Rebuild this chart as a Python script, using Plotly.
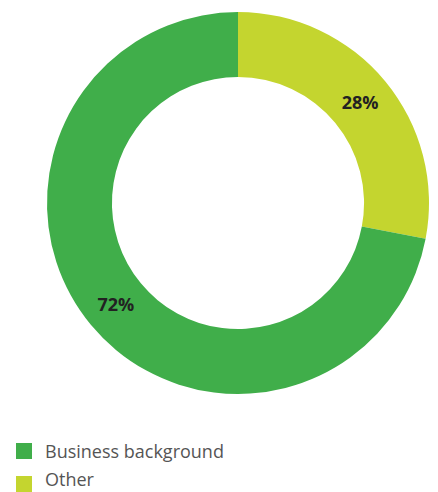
import plotly.graph_objects as go

# Share of respondents by background
categories = ["Business background", "Other"]
shares = [72, 28]
colors = ["#40ae4a", "#c4d52f"]

W, H = 438, 492

fig = go.Figure()

# Slices are laid out clockwise from 12 o'clock, "Other" first
fig.add_trace(go.Pie(
    labels=categories[::-1],
    values=shares[::-1],
    sort=False,
    direction="clockwise",
    rotation=0,
    hole=0.66,
    marker=dict(colors=colors[::-1], line=dict(width=0)),
    texttemplate="<b>%{value}%</b>",
    textposition="inside",
    insidetextorientation="horizontal",
    textfont=dict(family="Open Sans", size=18, color="#222222"),
    hoverinfo="label+percent",
    showlegend=False,
    domain=dict(x=[47 / W, 429 / W], y=[98 / H, 480 / H]),
))

# Hand-built legend with larger square swatches
swatch_centers = [451, 484]
text_centers = [451, 479]
for name, color, ys, yt in zip(categories, colors, swatch_centers, text_centers):
    fig.add_shape(
        type="rect", xref="paper", yref="paper",
        x0=16 / W, x1=32 / W,
        y0=(H - ys - 8) / H, y1=(H - ys + 8) / H,
        fillcolor=color, line=dict(width=0),
    )
    fig.add_annotation(
        x=44 / W, y=(H - yt) / H, xref="paper", yref="paper",
        text=name, showarrow=False, xanchor="left", yanchor="middle",
        borderpad=0,
        font=dict(family="Open Sans", size=18, color="#555555"),
    )

fig.update_layout(
    width=W, height=H,
    margin=dict(l=0, r=0, t=0, b=0),
    paper_bgcolor="white",
    plot_bgcolor="white",
)

fig.write_html("out.html")
